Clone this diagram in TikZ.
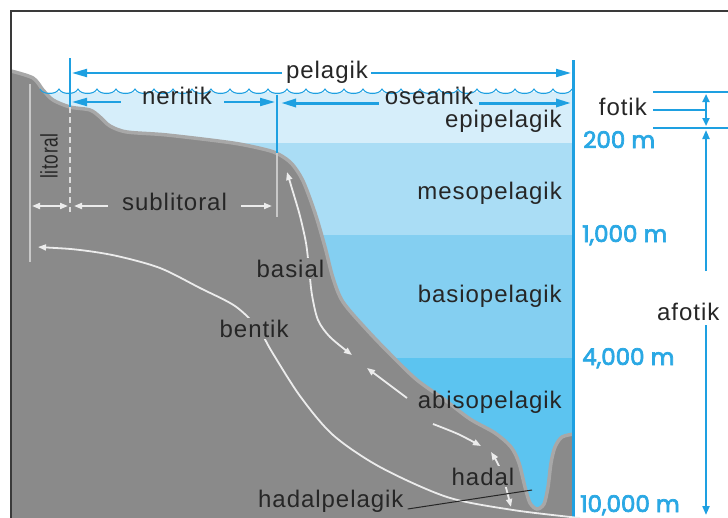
\documentclass[tikz,border=0pt]{standalone}
\usepackage{fontspec}
\setmainfont{Liberation Sans}
\newfontfamily\depthfont{Poppins}[FakeBold=3]
\usetikzlibrary{arrows.meta}

\definecolor{seablue}{RGB}{30,160,225}
\definecolor{depthblue}{RGB}{42,168,228}
\definecolor{epi}{RGB}{214,238,250}
\definecolor{meso}{RGB}{170,221,245}
\definecolor{basio}{RGB}{132,207,241}
\definecolor{abiso}{RGB}{92,196,240}
\definecolor{rock}{RGB}{138,138,138}
\definecolor{rockedge}{RGB}{168,168,168}
\definecolor{ink}{RGB}{38,38,38}
\definecolor{trail}{RGB}{236,236,236}
\definecolor{frameline}{RGB}{58,58,58}
\definecolor{markgray}{RGB}{200,200,200}
\definecolor{dashgray}{RGB}{220,220,220}

\tikzset{
  zone/.style={font=\fontsize{24}{24}\selectfont\addfontfeature{LetterSpace=4}, text=ink, inner sep=0pt},
  onrock/.style={zone, fill=rock, inner sep=1.5pt},
  depth/.style={font=\depthfont\fontsize{23}{23}\selectfont, text=depthblue, inner sep=0pt, anchor=base west},
  bline/.style={draw=seablue, line width=2pt},
  bhead/.style={bline, -{Triangle[length=15pt,width=8pt]}},
  shead/.style={bline, {Triangle[length=8pt,width=7pt]}-{Triangle[length=8pt,width=7pt]}},
  trailline/.style={draw=trail, line width=1.8pt},
  tboth/.style={trailline, {Triangle[length=8pt,width=6pt]}-{Triangle[length=8pt,width=6pt]}},
  tend/.style={trailline, -{Triangle[length=8pt,width=6pt]}},
  marker/.style={draw=markgray, line width=2.2pt},
}

\begin{document}
\begin{tikzpicture}[x=1pt,y=-1pt]
\useasboundingbox (0,0) rectangle (728,517);
\clip (0,0) rectangle (728,517);
\fill[white] (0,0) rectangle (728,517);

% water layers
\fill[epi]   (11,92)  rectangle (573,143);
\fill[meso]  (11,143) rectangle (573,235);
\fill[basio] (11,235) rectangle (573,358);
\fill[abiso] (11,358) rectangle (573,520);

% sea floor profile
\def\floor{(11,71) (33,78) (43,90) (53,100) (70,107) (90,110) (100,117) (110,126) (127,132) (167,135) (233,143) (267,150) (280,155) (292,164) (303,181) (315,213) (325,247) (333,278) (343,302) (367,330) (393,357) (417,380) (445,400) (470,419) (495,433) (511,447) (519,463) (525,487) (530,503) (537,509) (544,504) (548,487) (551,463) (555,447) (562,437) (574,434)}
\fill[rock] plot[smooth, tension=0.5] coordinates {\floor} -- (574,520) -- (11,520) -- cycle;
\draw[rockedge, line width=3.5pt] plot[smooth, tension=0.5] coordinates {\floor};

% sea surface
\draw[seablue, line width=1pt] (40,89)
  \foreach \i in {0,...,27} { .. controls ({43+19*\i},95) and ({56+19*\i},95) .. ({59+19*\i},89) };

% coastal boundary markers
\coordinate (lit-top) at (30,84);
\coordinate (lit-bot) at (30,262);
\draw[marker] (lit-top) -- (lit-bot);
\coordinate (sub-top) at (70,107);
\coordinate (sub-bot) at (70,212);
\draw[draw=dashgray, line width=2pt, dash pattern=on 6pt off 4pt] (sub-top) -- (sub-bot);
\coordinate (shelf-top) at (277,153);
\coordinate (shelf-bot) at (277,217);
\draw[marker] (shelf-top) -- (shelf-bot);

% blue zone boundaries
\coordinate (coast-top) at (70,58);
\draw[bline] (coast-top) -- (sub-top);
\coordinate (edge-top) at (277,95);
\draw[bline] (edge-top) -- (shelf-top);
\coordinate (ocean-top) at (573,60);
\coordinate (ocean-bot) at (573,520);
\draw[seablue, line width=3pt] (ocean-top) -- (ocean-bot);

% pelagik
\node[zone, anchor=base] (pelagik) at (327,78) {pelagik};
\coordinate (pel-l) at (72,73);
\coordinate (pel-r) at (571,73);
\draw[bhead] ([xshift=-4pt]pelagik.west |- pel-l) -- (pel-l);
\draw[bhead] ([xshift=3pt]pelagik.east |- pel-r) -- (pel-r);

% neritik
\node[zone, anchor=base] (neritik) at (177,104) {neritik};
\coordinate (ner-l) at (72,102);
\coordinate (ner-r) at (275,102);
\draw[bhead] ([xshift=-21pt]neritik.west |- ner-l) -- (ner-l);
\draw[bhead] ([xshift=12pt]neritik.east |- ner-r) -- (ner-r);

% oseanik
\node[zone, anchor=base] (oseanik) at (429,104) {oseanik};
\coordinate (osc-l) at (281,103);
\coordinate (osc-r) at (571,103);
\draw[bhead, line width=3pt] ([xshift=-6pt]oseanik.west |- osc-l) -- (osc-l);
\draw[bhead, line width=3pt] ([xshift=6pt]oseanik.east |- osc-r) -- (osc-r);

% pelagic layers
\node[zone, anchor=base east] (epipelagik) at (562,127) {epipelagik};
\node[zone, anchor=base east] (mesopelagik) at (562,199) {mesopelagik};
\node[zone, anchor=base east] (basiopelagik) at (562,302) {basiopelagik};
\node[zone, anchor=base east] (abisopelagik) at (562,408) {abisopelagik};

% depths
\node[depth] (d200) at (583,148) {200 m};
\node[depth] (d1000) at (582,242) {1,000 m};
\node[depth] (d4000) at (582,365) {4,000 m};
\node[depth] (d10000) at (580,512) {10,000 m};

% light zones
\coordinate (f-top-l) at (653,92);  \coordinate (f-top-r) at (728,92);
\coordinate (f-mid-r) at (706,110);
\coordinate (f-bot-l) at (653,128); \coordinate (f-bot-r) at (728,128);
\node[zone, anchor=base east] (fotik) at (647,115) {fotik};
\draw[bline] (f-top-l) -- (f-top-r);
\draw[bline] ([xshift=6pt]fotik.east |- f-mid-r) -- (f-mid-r);
\draw[bline] (f-bot-l) -- (f-bot-r);
\coordinate (fv-top) at (706,94);
\coordinate (fv-bot) at (706,126);
\draw[shead] (fv-top) -- (fv-bot);
\node[zone, anchor=base west] (afotik) at (657,320) {afotik};
\coordinate (af-top) at (706,130);
\coordinate (af-gap1) at (706,271);
\coordinate (af-gap2) at (706,325);
\coordinate (af-bot) at (706,515);
\draw[bline, -{Triangle[length=9pt,width=7pt]}] (af-gap1) -- (af-top);
\draw[bline, -{Triangle[length=9pt,width=7pt]}] (af-gap2) -- (af-bot);

% benthic trails
\draw[trailline, {Triangle[length=8pt,width=6pt]}-] plot[smooth] coordinates {(38,247) (80,250) (117,256) (160,268) (200,288) (235,306) (258,328) (272,352) (300,396) (333,435) (380,467) (447,497) (513,510) (580,518)};
\draw[tboth] plot[smooth] coordinates {(287,172) (293,192) (300,216) (306,243) (309,268) (312,295) (318,320) (330,337) (352,355)};
\draw[trailline, -{Triangle[length=8pt,width=6pt]}] (407,398) -- (367,368);
\draw[tend] plot[smooth] coordinates {(433,424) (458,434) (481,446)};
\draw[tboth] plot[smooth] coordinates {(491,452) (499,466) (505,484) (511,507)};

% coastal widths
\coordinate (lw-l) at (32,206); \coordinate (lw-r) at (68,206);
\draw[tboth] (lw-l) -- (lw-r);
\node[zone, anchor=base west] (sublitoral) at (122,210) {sublitoral};
\coordinate (sw-l) at (74,206); \coordinate (sw-r) at (272,206);
\draw[tend] ([xshift=-14pt]sublitoral.west |- sw-l) -- (sw-l);
\draw[tend] ([xshift=14pt]sublitoral.east |- sw-r) -- (sw-r);
\node[zone, rotate=90] (litoral) at (49,156) {\scalebox{0.72}[1]{litoral}};

% benthic labels
\node[onrock, anchor=base west] (basial) at (255,277) {basial};
\node[onrock, anchor=base west] (bentik) at (218,337) {bentik};
\node[onrock, anchor=base west] (hadal) at (450,485) {hadal};
\node[zone, anchor=base west] (hadalpelagik) at (258,507) {hadalpelagik};
\coordinate (trench) at (532,490);
\draw[ink, line width=1pt] ([xshift=4pt,yshift=-2pt]hadalpelagik.base east) -- (trench);

% frame
\draw[frameline, line width=2.5pt] (11,520) -- (11,11) -- (730,11);
\end{tikzpicture}
\end{document}
